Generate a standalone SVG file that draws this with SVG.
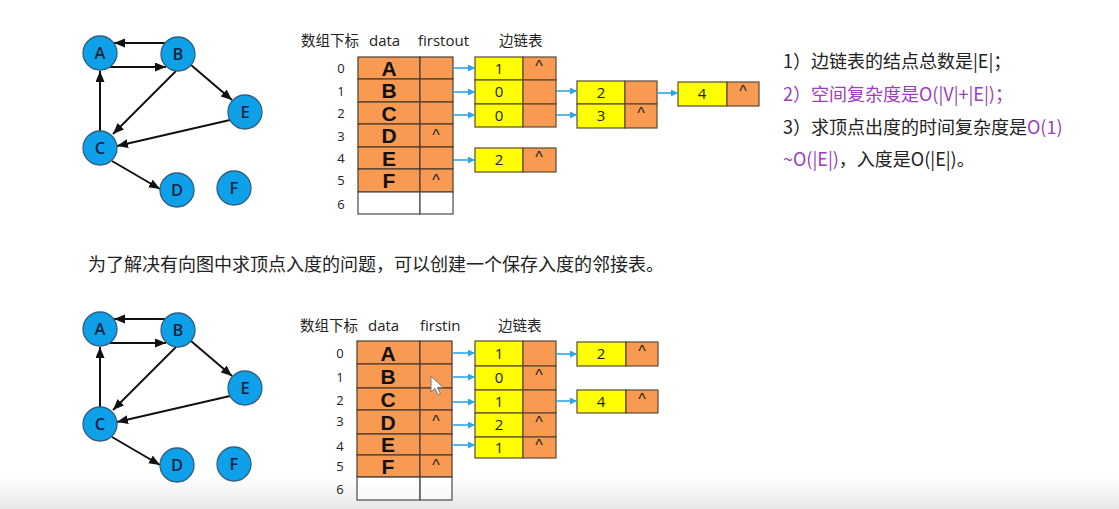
<svg xmlns="http://www.w3.org/2000/svg" width="1119" height="509" viewBox="0 0 1119 509">
<defs>
<marker id="ah" markerUnits="userSpaceOnUse" markerWidth="12" markerHeight="10" refX="11" refY="4.5" orient="auto"><path d="M0,0 L11,4.5 L0,9 z" fill="#111"/></marker>
<marker id="bh" markerUnits="userSpaceOnUse" markerWidth="8" markerHeight="8" refX="7" refY="3.5" orient="auto"><path d="M0,0 L7,3.5 L0,7 z" fill="#2ea6e4"/></marker>
<linearGradient id="fade" x1="0" y1="0" x2="0" y2="1"><stop offset="0" stop-color="#ffffff"/><stop offset="1" stop-color="#e6e6e6"/></linearGradient>
<style>
.nd{fill:#0ea0e8;stroke:#2f5f80;stroke-width:1.3}
.nt{font-family:"Open Sans","Liberation Sans",sans-serif;font-weight:600;font-size:16.5px;fill:#14233a;text-anchor:middle}
.e{stroke:#111;stroke-width:2;fill:none;marker-end:url(#ah)}
.b{stroke:#2ea6e4;stroke-width:1.6;fill:none;marker-end:url(#bh)}
.or{fill:#f89a52;stroke:#4a3c30;stroke-width:1.2}
.wh{fill:#ffffff;stroke:#4a4a4a;stroke-width:1.2}
.ye{fill:#ffff00;stroke:#5a4a35;stroke-width:1.2}
.eo{fill:#f89a52;stroke:#5a4a35;stroke-width:1.2}
.hd{font-family:"Noto Sans CJK SC","Liberation Sans",sans-serif;font-size:14.5px;fill:#222}
.hl{font-family:"Open Sans","Liberation Sans",sans-serif;font-size:15px;fill:#222}
.ix{font-family:"Open Sans","Liberation Sans",sans-serif;font-size:13px;fill:#222;text-anchor:middle}
.dl{font-family:"Liberation Sans",Arial,sans-serif;font-weight:bold;font-size:21px;fill:#111;text-anchor:middle}
.cr{font-family:"Liberation Sans",Arial,sans-serif;font-size:16px;fill:#222;text-anchor:middle}
.num{font-family:"Open Sans","Liberation Sans",sans-serif;font-size:15px;fill:#222;text-anchor:middle}
.tx{font-family:"Noto Sans CJK SC","Liberation Sans",sans-serif;font-size:18px;fill:#222}
.pu{fill:#9a3dbf}
</style>
</defs>
<rect width="1119" height="509" fill="#ffffff"/>
<rect x="0" y="478" width="1119" height="31" fill="url(#fade)"/>

<!-- top graph -->
<g id="g1-edges">
<line class="e" x1="165" y1="43" x2="114" y2="43"/>
<line class="e" x1="110" y1="67" x2="166" y2="67"/>
<line class="e" x1="100" y1="131" x2="100" y2="71"/>
<line class="e" x1="176" y1="71" x2="113" y2="134"/>
<line class="e" x1="191" y1="65" x2="232" y2="100"/>
<line class="e" x1="230" y1="120" x2="117" y2="146"/>
<line class="e" x1="112" y1="161" x2="160" y2="189"/>
</g>
<g id="t-A"><circle class="nd" cx="100" cy="53" r="17"/><text class="nt" x="100" y="59">A</text></g>
<g id="t-B"><circle class="nd" cx="178" cy="54" r="17"/><text class="nt" x="178" y="60">B</text></g>
<g id="t-E"><circle class="nd" cx="245" cy="112" r="17"/><text class="nt" x="245" y="118">E</text></g>
<g id="t-C"><circle class="nd" cx="100" cy="148" r="17"/><text class="nt" x="100" y="154">C</text></g>
<g id="t-D"><circle class="nd" cx="177" cy="190" r="17"/><text class="nt" x="177" y="196">D</text></g>
<g id="t-F"><circle class="nd" cx="234" cy="188" r="17"/><text class="nt" x="234" y="194">F</text></g>

<!-- top table -->
<g id="t-header">
<text class="hd" x="301" y="46">数组下标</text>
<text class="hl" x="369" y="46">data</text>
<text class="hl" x="418" y="46">firstout</text>
<text class="hd" x="499" y="46">边链表</text>
</g>
<g id="t-table">
<rect class="or" x="358" y="57" width="62" height="22"/><rect class="or" x="420" y="57" width="33" height="22"/>
<rect class="or" x="358" y="79" width="62" height="23"/><rect class="or" x="420" y="79" width="33" height="23"/>
<rect class="or" x="358" y="102" width="62" height="22"/><rect class="or" x="420" y="102" width="33" height="22"/>
<rect class="or" x="358" y="124" width="62" height="23"/><rect class="or" x="420" y="124" width="33" height="23"/>
<rect class="or" x="358" y="147" width="62" height="22"/><rect class="or" x="420" y="147" width="33" height="22"/>
<rect class="or" x="358" y="169" width="62" height="23"/><rect class="or" x="420" y="169" width="33" height="23"/>
<rect class="wh" x="358" y="192" width="62" height="22"/><rect class="wh" x="420" y="192" width="33" height="22"/>
<text class="dl" x="389" y="76">A</text>
<text class="dl" x="389" y="98">B</text>
<text class="dl" x="389" y="121">C</text>
<text class="dl" x="389" y="143">D</text>
<text class="dl" x="389" y="166">E</text>
<text class="dl" x="389" y="188">F</text>
<text class="cr" x="436" y="141">^</text>
<text class="cr" x="436" y="186">^</text>
<text class="ix" x="341" y="73">0</text>
<text class="ix" x="341" y="96">1</text>
<text class="ix" x="341" y="118">2</text>
<text class="ix" x="341" y="141">3</text>
<text class="ix" x="341" y="163">4</text>
<text class="ix" x="341" y="185">5</text>
<text class="ix" x="341" y="209">6</text>
</g>
<g id="t-n0"><rect class="ye" x="475" y="57" width="48" height="23"/><rect class="eo" x="523" y="57" width="33" height="23"/><text class="num" x="499" y="74">1</text><text class="cr" x="539" y="72">^</text></g>
<g id="t-n1"><rect class="ye" x="475" y="80" width="48" height="24"/><rect class="eo" x="523" y="80" width="33" height="24"/><text class="num" x="499" y="97">0</text></g>
<g id="t-n2"><rect class="ye" x="475" y="104" width="48" height="23"/><rect class="eo" x="523" y="104" width="33" height="23"/><text class="num" x="499" y="121">0</text></g>
<g id="t-n4"><rect class="ye" x="475" y="148" width="48" height="24"/><rect class="eo" x="523" y="148" width="33" height="24"/><text class="num" x="499" y="165">2</text><text class="cr" x="539" y="163">^</text></g>
<g id="t-n12"><rect class="ye" x="577" y="81" width="48" height="23"/><rect class="eo" x="625" y="81" width="32" height="23"/><text class="num" x="601" y="98">2</text></g>
<g id="t-n13"><rect class="ye" x="577" y="104" width="48" height="24"/><rect class="eo" x="625" y="104" width="32" height="24"/><text class="num" x="601" y="121">3</text><text class="cr" x="641" y="119">^</text></g>
<g id="t-n14"><rect class="ye" x="678" y="82" width="49" height="24"/><rect class="eo" x="727" y="82" width="32" height="24"/><text class="num" x="702" y="99">4</text><text class="cr" x="743" y="97">^</text></g>
<g id="t-links">
<line class="b" x1="453" y1="68" x2="475" y2="68"/>
<line class="b" x1="453" y1="92" x2="475" y2="92"/>
<line class="b" x1="453" y1="115" x2="475" y2="115"/>
<line class="b" x1="453" y1="160" x2="475" y2="160"/>
<line class="b" x1="556" y1="91" x2="577" y2="91"/>
<line class="b" x1="556" y1="115" x2="577" y2="115"/>
<line class="b" x1="657" y1="93" x2="678" y2="93"/>
</g>

<!-- right notes -->
<g id="notes">
<text class="tx" x="783" y="68">1）边链表的结点总数是|E|；</text>
<text class="tx pu" x="783" y="101">2）空间复杂度是O(|V|+|E|)；</text>
<text class="tx" x="783" y="134">3）求顶点出度的时间复杂度是<tspan class="pu">O(1)</tspan></text>
<text class="tx" x="783" y="166"><tspan class="pu">~O(|E|)</tspan>，入度是O(|E|)。</text>
</g>

<text class="tx" x="88" y="271">为了解决有向图中求顶点入度的问题，可以创建一个保存入度的邻接表。</text>

<!-- bottom graph -->
<g id="g2-edges">
<line class="e" x1="165" y1="319" x2="114" y2="319"/>
<line class="e" x1="110" y1="343" x2="166" y2="343"/>
<line class="e" x1="100" y1="407" x2="100" y2="347"/>
<line class="e" x1="176" y1="347" x2="113" y2="410"/>
<line class="e" x1="191" y1="341" x2="232" y2="376"/>
<line class="e" x1="230" y1="396" x2="117" y2="422"/>
<line class="e" x1="112" y1="437" x2="160" y2="465"/>
</g>
<g id="b-A"><circle class="nd" cx="100" cy="329" r="17"/><text class="nt" x="100" y="335">A</text></g>
<g id="b-B"><circle class="nd" cx="178" cy="330" r="17"/><text class="nt" x="178" y="336">B</text></g>
<g id="b-E"><circle class="nd" cx="245" cy="388" r="17"/><text class="nt" x="245" y="394">E</text></g>
<g id="b-C"><circle class="nd" cx="100" cy="424" r="17"/><text class="nt" x="100" y="430">C</text></g>
<g id="b-D"><circle class="nd" cx="177" cy="465" r="17"/><text class="nt" x="177" y="471">D</text></g>
<g id="b-F"><circle class="nd" cx="234" cy="464" r="17"/><text class="nt" x="234" y="470">F</text></g>

<!-- bottom table -->
<g id="b-header">
<text class="hd" x="300" y="331">数组下标</text>
<text class="hl" x="368" y="331">data</text>
<text class="hl" x="420" y="331">firstin</text>
<text class="hd" x="498" y="331">边链表</text>
</g>
<g id="b-table">
<rect class="or" x="357" y="341" width="63" height="23"/><rect class="or" x="420" y="341" width="32" height="23"/>
<rect class="or" x="357" y="364" width="63" height="24"/><rect class="or" x="420" y="364" width="32" height="24"/>
<rect class="or" x="357" y="388" width="63" height="22"/><rect class="or" x="420" y="388" width="32" height="22"/>
<rect class="or" x="357" y="410" width="63" height="24"/><rect class="or" x="420" y="410" width="32" height="24"/>
<rect class="or" x="357" y="434" width="63" height="21"/><rect class="or" x="420" y="434" width="32" height="21"/>
<rect class="or" x="357" y="455" width="63" height="22"/><rect class="or" x="420" y="455" width="32" height="22"/>
<rect class="wh" x="357" y="477" width="63" height="23" fill-opacity="0.6"/><rect class="wh" x="420" y="477" width="32" height="23" fill-opacity="0.6"/>
<text class="dl" x="388" y="361">A</text>
<text class="dl" x="388" y="384">B</text>
<text class="dl" x="388" y="407">C</text>
<text class="dl" x="388" y="430">D</text>
<text class="dl" x="388" y="452">E</text>
<text class="dl" x="388" y="474">F</text>
<text class="cr" x="436" y="427">^</text>
<text class="cr" x="436" y="471">^</text>
<text class="ix" x="340" y="358">0</text>
<text class="ix" x="340" y="382">1</text>
<text class="ix" x="340" y="405">2</text>
<text class="ix" x="340" y="426">3</text>
<text class="ix" x="340" y="451">4</text>
<text class="ix" x="340" y="471">5</text>
<text class="ix" x="340" y="494">6</text>
</g>
<g id="b-n0"><rect class="ye" x="475" y="341" width="48" height="25"/><rect class="eo" x="523" y="341" width="33" height="25"/><text class="num" x="499" y="359">1</text></g>
<g id="b-n1"><rect class="ye" x="475" y="366" width="48" height="24"/><rect class="eo" x="523" y="366" width="33" height="24"/><text class="num" x="499" y="383">0</text><text class="cr" x="539" y="381">^</text></g>
<g id="b-n2"><rect class="ye" x="475" y="390" width="48" height="23"/><rect class="eo" x="523" y="390" width="33" height="23"/><text class="num" x="499" y="407">1</text></g>
<g id="b-n3"><rect class="ye" x="475" y="413" width="48" height="24"/><rect class="eo" x="523" y="413" width="33" height="24"/><text class="num" x="499" y="430">2</text><text class="cr" x="539" y="428">^</text></g>
<g id="b-n4"><rect class="ye" x="475" y="437" width="48" height="21"/><rect class="eo" x="523" y="437" width="33" height="21"/><text class="num" x="499" y="453">1</text><text class="cr" x="539" y="451">^</text></g>
<g id="b-n02"><rect class="ye" x="577" y="342" width="49" height="24"/><rect class="eo" x="626" y="342" width="32" height="24"/><text class="num" x="601" y="359">2</text><text class="cr" x="642" y="357">^</text></g>
<g id="b-n24"><rect class="ye" x="577" y="390" width="49" height="23"/><rect class="eo" x="626" y="390" width="32" height="23"/><text class="num" x="601" y="407">4</text><text class="cr" x="642" y="405">^</text></g>
<g id="b-links">
<line class="b" x1="452" y1="353" x2="475" y2="353"/>
<line class="b" x1="452" y1="377" x2="475" y2="377"/>
<line class="b" x1="452" y1="402" x2="475" y2="402"/>
<line class="b" x1="452" y1="425" x2="475" y2="425"/>
<line class="b" x1="452" y1="445" x2="475" y2="445"/>
<line class="b" x1="556" y1="354" x2="577" y2="354"/>
<line class="b" x1="556" y1="401" x2="577" y2="401"/>
</g>

<polygon points="431,376 431,392 435,388.5 438,395 440.5,394 437.5,387.5 443,387.5" fill="#ffffff" stroke="#777" stroke-width="1"/>
</svg>
